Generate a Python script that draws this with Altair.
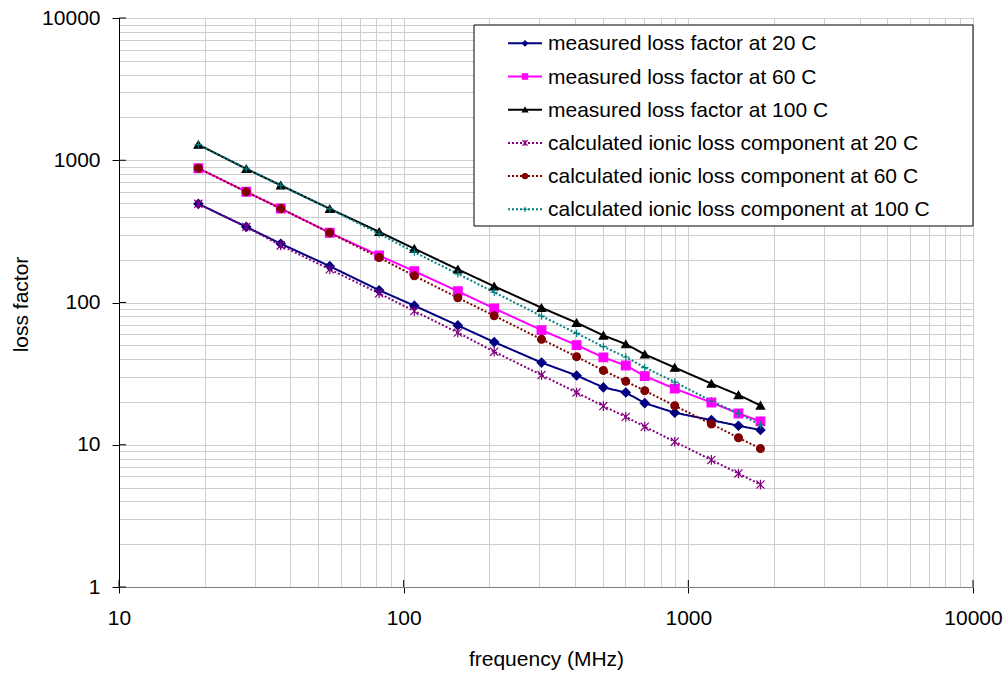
import altair as alt
import pandas as pd

# ---- data ----
freq = [19, 28, 37, 55, 82, 109, 155, 208, 305, 405, 503, 603, 703, 896, 1205, 1500, 1792]

m20 = [494, 340, 259, 180, 122, 95, 69, 52.7, 37.8, 30.7, 25.3, 23.3, 19.6, 16.8, 14.9, 13.6, 12.7]
m60 = [879, 600, 458, 309, 214, 166, 120, 90.9, 63.9, 50.2, 41.1, 36.1, 30.4, 24.8, 19.8, 16.6, 14.6]
m100 = [1288, 871, 667, 456, 314, 239, 171, 130, 91.9, 72.1, 58.7, 51.0, 43.2, 34.9, 26.9, 22.4, 18.9]
c20 = [494, 340, 252, 171, 116, 87, 61.4, 45.1, 30.9, 23.3, 18.7, 15.7, 13.4, 10.5, 7.82, 6.28, 5.25]
c60 = [879, 600, 458, 309, 207, 154, 108, 80.7, 55.1, 41.6, 33.3, 27.9, 24.0, 18.8, 14.0, 11.2, 9.4]
c100 = [1288, 870, 665, 455, 304, 226, 159, 118, 80.3, 60.7, 48.9, 41.4, 34.9, 27.6, 20.3, 16.6, 13.8]

series_names = [
    "measured loss factor at 20 C",
    "measured loss factor at 60 C",
    "measured loss factor at 100 C",
    "calculated ionic loss component at 20 C",
    "calculated ionic loss component at 60 C",
    "calculated ionic loss component at 100 C",
]
series_values = [m20, m60, m100, c20, c60, c100]

x_ticks = [10, 100, 1000, 10000]
y_ticks = [1, 10, 100, 1000, 10000]

# ---- styles ----
colors = ["#000080", "#FF00FF", "#000000", "#800080", "#800000", "#008080"]
dashes = [[1, 0], [1, 0], [1, 0], [2, 2], [2, 2], [2, 2]]
widths = [2, 2, 1.5, 1, 1, 1]
shapes = ["diamond", "square", "triangle-up",
          "M-1,-1L1,1M-1,1L1,-1M0,-1.2L0,1.2", "circle", "M-1,0L1,0M0,-1L0,1"]
sizes = [80, 56, 40, 36, 30, 45]

FONT = "Liberation Sans"
FS = 21
GRID = "#cfcfcf"

rows = []
for name, vals in zip(series_names, series_values):
    for f, v in zip(freq, vals):
        rows.append({"series": name, "freq": f, "value": v})
df = pd.DataFrame(rows)

minor_x = [m * 10 ** e for e in range(1, 4) for m in range(1, 10)] + [10000]
minor_y = [m * 10 ** e for e in range(0, 4) for m in range(1, 10)] + [10000]

stroke_enc = alt.Stroke("series:N", scale=alt.Scale(domain=series_names, range=colors), legend=None)
fill_enc = alt.Fill("series:N", scale=alt.Scale(domain=series_names, range=colors), legend=None)
dash_enc = alt.StrokeDash("series:N", scale=alt.Scale(domain=series_names, range=dashes), legend=None)
sw_enc = alt.StrokeWidth("series:N", scale=alt.Scale(domain=series_names, range=widths), legend=None)
shape_enc = alt.Shape("series:N", scale=alt.Scale(domain=series_names, range=shapes), legend=None)
size_enc = alt.Size("series:N", scale=alt.Scale(domain=series_names, range=sizes), legend=None)

x_axis = alt.Axis(
    values=minor_x, format="d",
    labelExpr="indexof([10,100,1000,10000], datum.value) >= 0 ? datum.label : ''",
    grid=True, gridColor=GRID, gridWidth=1,
    tickSize=6, tickColor="#000000",
    tickOpacity={"condition": {"test": "indexof([10,100,1000,10000], datum.value) >= 0", "value": 1}, "value": 0},
    labelFont=FONT, labelFontSize=FS, labelColor="#000000", labelPadding=14,
    labelFlush=False, labelOverlap=False,
    domainColor="#808080",
    title="frequency (MHz)", titleFont=FONT, titleFontSize=FS, titleFontWeight="normal",
    titleColor="#000000", titleBaseline="alphabetic", titleY=78, titleX=427,
)
y_axis = alt.Axis(
    values=minor_y, format="d",
    labelExpr="indexof([1,10,100,1000,10000], datum.value) >= 0 ? datum.label : ''",
    grid=True, gridColor=GRID, gridWidth=1,
    tickSize=7, tickColor="#000000",
    tickOpacity={"condition": {"test": "indexof([1,10,100,1000,10000], datum.value) >= 0", "value": 1}, "value": 0},
    labelFont=FONT, labelFontSize=FS, labelColor="#000000", labelPadding=12,
    labelFlush=False, labelOverlap=False,
    domainColor="#000000",
    title="loss factor", titleFont=FONT, titleFontSize=FS, titleFontWeight="normal",
    titleColor="#000000", titleBaseline="alphabetic", titleX=-92, titleY=286, titleAngle=270,
)

x_scale = alt.Scale(type="log", domain=[10, 10000], nice=False)
y_scale = alt.Scale(type="log", domain=[1, 10000], nice=False)
x_enc = alt.X("freq:Q", scale=x_scale, axis=x_axis)
y_enc = alt.Y("value:Q", scale=y_scale, axis=y_axis)

base = alt.Chart(df)

lines = base.mark_line().encode(
    x=x_enc, y=y_enc, detail="series:N",
    stroke=stroke_enc, strokeDash=dash_enc, strokeWidth=sw_enc,
)
points = base.mark_point(filled=False, strokeWidth=1.2, opacity=1).encode(
    x=x_enc, y=y_enc, shape=shape_enc, size=size_enc, stroke=stroke_enc, fill=fill_enc,
)

# inward parts of the crossing major ticks
xt = alt.Chart(pd.DataFrame({"freq": x_ticks})).mark_rule(color="#000000", strokeWidth=1).encode(
    x=alt.X("freq:Q", scale=x_scale, axis=x_axis), y=alt.value(569), y2=alt.value(562))
yt = alt.Chart(pd.DataFrame({"value": y_ticks})).mark_rule(color="#000000", strokeWidth=1).encode(
    y=alt.Y("value:Q", scale=y_scale, axis=y_axis), x=alt.value(0), x2=alt.value(7))

# ---- legend box (drawn with marks) ----
leg_df = pd.DataFrame({"series": series_names})
legend_box = alt.Chart(pd.DataFrame({"k": [0]})).mark_rect(
    fill="white", stroke="black", strokeWidth=1
).encode(x=alt.value(355), x2=alt.value(854), y=alt.value(7), y2=alt.value(208))

legend_layers = [legend_box]
for i, name in enumerate(series_names):
    yy = 25.3 + 33.2 * i
    one = alt.Chart(leg_df).transform_filter(alt.datum.series == name)
    legend_layers.append(one.mark_rule().encode(
        x=alt.value(389), x2=alt.value(423), y=alt.value(yy),
        stroke=stroke_enc, strokeDash=dash_enc, strokeWidth=sw_enc,
    ))
    legend_layers.append(one.mark_point(filled=False, strokeWidth=1.1, opacity=1).encode(
        x=alt.value(406), y=alt.value(yy),
        shape=shape_enc, stroke=stroke_enc, fill=fill_enc,
        size=alt.value(28),
    ))
    legend_layers.append(one.mark_text(
        align="left", baseline="middle", font=FONT, fontSize=FS, color="#000000"
    ).encode(x=alt.value(429), y=alt.value(yy + 1), text="series:N"))

chart = alt.layer(xt, yt, lines, points, *legend_layers).properties(
    width=854, height=569,
    autosize=alt.AutoSizeParams(type="none"),
    padding={"left": 119, "top": 18, "right": 33, "bottom": 86},
    background="white",
).configure_view(stroke=None)

chart.save("out.html", embed_options={"renderer": "svg", "actions": False})
